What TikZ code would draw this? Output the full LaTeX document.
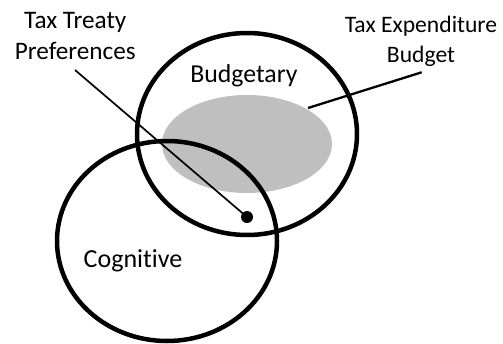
\documentclass[tikz,border=0pt]{standalone}
\usepackage{fontspec}
\setmainfont[RawFeature=-liga]{Carlito}
\begin{document}
\begin{tikzpicture}[x=1pt,y=-1pt,
  ring/.style={draw=black,line width=4.5pt},
  lbl/.style={inner sep=0pt,align=center},
  leader/.style={draw=black,line width=1.8pt}]
\useasboundingbox (0,0) rectangle (503,343);
\fill[black!25] (247,144) ellipse [x radius=85pt,y radius=49pt];
\node[inner sep=0pt,minimum width=170pt,minimum height=98pt] (teb) at (247,144) {};
\draw[ring] (247,134) ellipse [x radius=110pt,y radius=101pt];
\draw[ring] (167,241) ellipse [x radius=110pt,y radius=100pt];
\node[lbl,font=\fontsize{25.8}{30}\selectfont,anchor=base] (bud) at (244,82) {Budgetary};
\node[lbl,font=\fontsize{26}{30}\selectfont,anchor=base] (cog) at (133,267) {Cognitive};
\node[lbl,font=\fontsize{25.2}{30.7}\selectfont,anchor=base] (ttp) at (75.3,59) {Tax Treaty\\Preferences};
\node[lbl,font=\fontsize{23.6}{30}\selectfont,anchor=base] (tebl) at (421,62.3) {Tax Expenditure\\Budget};
\fill[black] (247,217) circle (6pt);
\coordinate (dot) at (247,217);
\coordinate (ttpend) at (75,70);
\coordinate (tebend) at (421.7,72.3);
\coordinate (tebtip) at (308,108);
\draw[leader,line width=1.7pt] (ttpend) -- (dot);
\draw[leader,line width=2.3pt] (tebend) -- (tebtip);
\end{tikzpicture}
\end{document}
